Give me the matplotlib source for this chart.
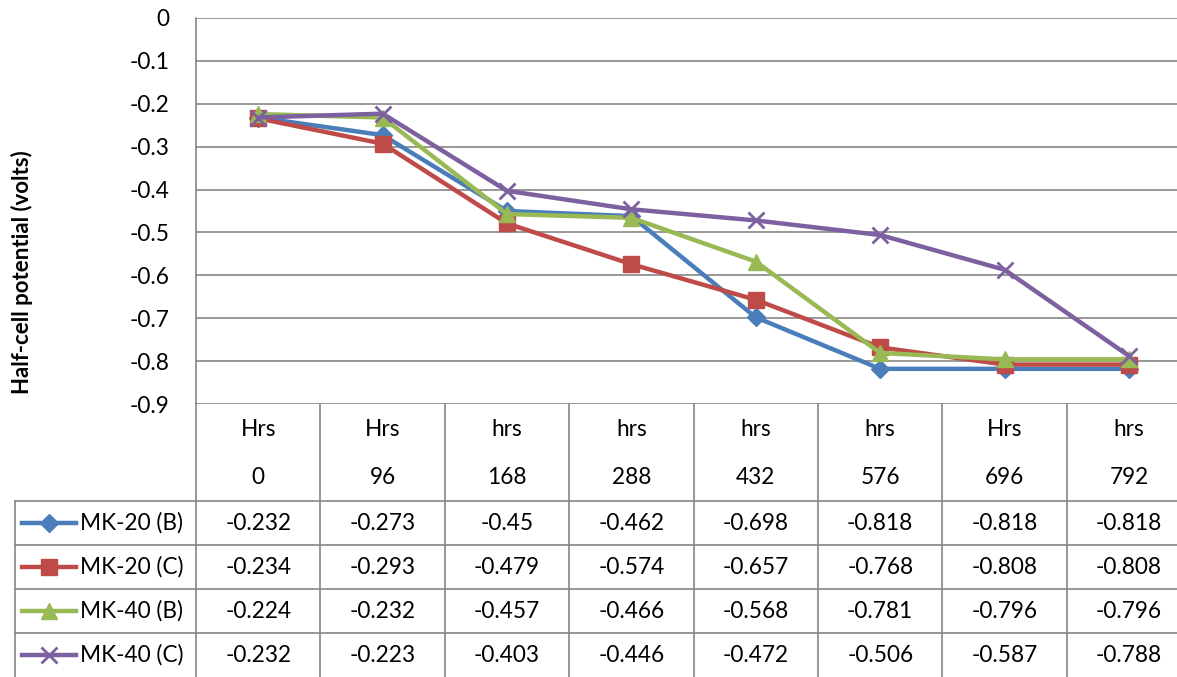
import matplotlib.pyplot as plt
from matplotlib.lines import Line2D

# 数据
hours = ['0', '96', '168', '288', '432', '576', '696', '792']
units = ['Hrs', 'Hrs', 'hrs', 'hrs', 'hrs', 'hrs', 'Hrs', 'hrs']
names = ['MK-20 (B)', 'MK-20 (C)', 'MK-40 (B)', 'MK-40 (C)']
mk20_b = [-0.232, -0.273, -0.45, -0.462, -0.698, -0.818, -0.818, -0.818]
mk20_c = [-0.234, -0.293, -0.479, -0.574, -0.657, -0.768, -0.808, -0.808]
mk40_b = [-0.224, -0.232, -0.457, -0.466, -0.568, -0.781, -0.796, -0.796]
mk40_c = [-0.232, -0.223, -0.403, -0.446, -0.472, -0.506, -0.587, -0.788]
series = [mk20_b, mk20_c, mk40_b, mk40_c]

colors = ['#4A7EBB', '#BE4B48', '#98B954', '#7D60A0']
markers = ['D', 's', '^', 'x']
msizes = [9, 12, 12, 12]
fs = 16.3

plt.rcParams['font.family'] = ['Lato', 'DejaVu Sans']
W, H = 1177, 677
fig = plt.figure(figsize=(W / 100, H / 100), dpi=100)

# 绘图区（右边被裁掉一部分）
top, bot, left = 18, 404, 196
colw = 124.4
right = left + 8 * colw
ax = fig.add_axes([left / W, 1 - bot / H, (right - left) / W, (bot - top) / H])

x = list(range(len(hours)))
for vals, c, m, ms in zip(series, colors, markers, msizes):
    ax.plot(x, vals, color=c, lw=3.2, marker=m, ms=ms, mec=c, mfc=c,
            mew=2 if m == 'x' else 1, clip_on=False, zorder=3)

ax.set_xlim(-0.5, 7.5)
ax.set_ylim(-0.9, 0)
ax.set_yticks([0, -0.1, -0.2, -0.3, -0.4, -0.5, -0.6, -0.7, -0.8, -0.9])
ax.set_yticklabels(['0', '-0.1', '-0.2', '-0.3', '-0.4', '-0.5', '-0.6', '-0.7', '-0.8', '-0.9'])
ax.tick_params(axis='y', length=0, pad=19, labelsize=fs)
ax.set_xticks([])
ax.grid(axis='y', color='#868686', lw=1.2)
for s in ['top', 'right', 'bottom']:
    ax.spines[s].set_visible(False)
ax.spines['left'].set_color('#868686')
ax.spines['left'].set_linewidth(1.2)

fig.text(22 / W, 1 - 272 / H, 'Half-cell potential (volts)', rotation=90,
         ha='center', va='center', fontsize=16, fontweight='bold')

# 数据表
gray = '#868686'
tx = ax.get_xaxis_transform()


def fy(ypx):
    return (bot - ypx) / (bot - top)


def py(ypx):
    return 1 - ypx / H


for i in range(-1, 8):
    ax.add_line(Line2D([i + 0.5, i + 0.5], [0, fy(H + 5)], transform=tx,
                       color=gray, lw=1.2, clip_on=False))
for yl in [501, 545, 589, 633]:
    fig.add_artist(Line2D([15 / W, 1], [py(yl), py(yl)], color=gray, lw=1.2))
fig.add_artist(Line2D([15 / W, 15 / W], [py(501), 0], color=gray, lw=1.2))

for i in x:
    ax.text(i, fy(429), units[i], transform=tx, ha='center', va='center', fontsize=fs)
    ax.text(i, fy(478), hours[i], transform=tx, ha='center', va='center', fontsize=fs)

row_y = [523, 567, 611, 655]
for r, (vals, name, c, m, ms) in enumerate(zip(series, names, colors, markers, msizes)):
    yy = py(row_y[r])
    fig.add_artist(Line2D([22 / W, 76 / W], [yy, yy], color=c, lw=3.2))
    fig.add_artist(Line2D([49 / W], [yy], color=c, marker=m, ms=ms, mec=c, mfc=c,
                          mew=2 if m == 'x' else 1))
    fig.text(80 / W, yy, name, ha='left', va='center', fontsize=fs)
    for i in x:
        ax.text(i, fy(row_y[r]), f'{vals[i]:g}', transform=tx,
                ha='center', va='center', fontsize=fs)

fig.savefig('out.png', dpi=100)
